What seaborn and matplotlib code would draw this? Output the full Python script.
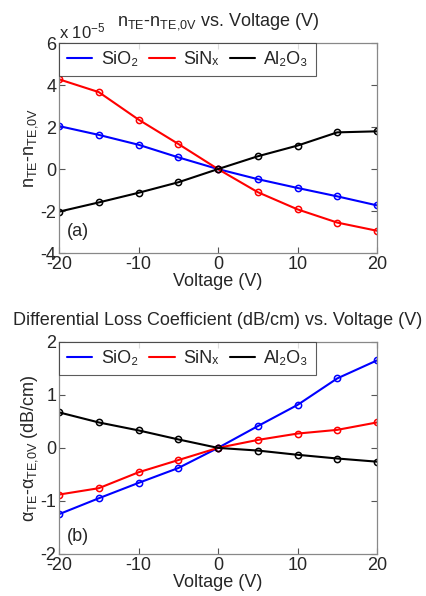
import pandas as pd
import matplotlib
matplotlib.use("Agg")
import matplotlib.pyplot as plt
from matplotlib.lines import Line2D
import seaborn as sns

voltage = [-20, -15, -10, -5, 0, 5, 10, 15, 20]
materials = ["SiO\u2082", "SiN\u2093", "Al\u2082O\u2083"]
colors = ["#0000ff", "#ff0000", "#000000"]

# index change, units of 1e-5
dn_sio2 = [2.05, 1.63, 1.16, 0.56, 0.0, -0.48, -0.90, -1.30, -1.73]
dn_sinx = [4.28, 3.67, 2.36, 1.20, 0.0, -1.10, -1.92, -2.55, -2.94]
dn_al2o3 = [-2.03, -1.59, -1.13, -0.63, 0.0, 0.61, 1.12, 1.75, 1.80]

# loss change, dB/cm
da_sio2 = [-1.25, -0.95, -0.66, -0.38, 0.0, 0.41, 0.81, 1.31, 1.65]
da_sinx = [-0.88, -0.76, -0.46, -0.23, 0.0, 0.15, 0.27, 0.34, 0.48]
da_al2o3 = [0.67, 0.48, 0.33, 0.16, 0.0, -0.05, -0.13, -0.20, -0.26]

def long_form(series):
    frames = []
    for name, vals in zip(materials, series):
        frames.append(pd.DataFrame({"V": voltage, "y": vals, "mat": name}))
    return pd.concat(frames, ignore_index=True)

sns.set_style("ticks")
plt.rcParams["font.family"] = ["Liberation Sans", "DejaVu Sans"]
plt.rcParams["mathtext.fontset"] = "custom"
plt.rcParams["mathtext.rm"] = "Liberation Sans"
plt.rcParams["mathtext.it"] = "Liberation Sans"
plt.rcParams["axes.unicode_minus"] = False

fig = plt.figure(figsize=(4.26, 5.96), dpi=100)
ax1 = fig.add_axes([0.1385, 0.5755, 0.7465, 0.352])
ax2 = fig.add_axes([0.1385, 0.0705, 0.7465, 0.356])

def draw(ax, series, ylim, yticks, tag, tag_y):
    df = long_form(series)
    sns.lineplot(data=df, x="V", y="y", hue="mat", palette=colors, marker="o",
                 markersize=4.5, markerfacecolor="none", markeredgewidth=1.1,
                 linewidth=1.5, ax=ax, legend=False)
    for line, c in zip(ax.lines, colors):
        line.set_markeredgecolor(c)
    ax.set_xlim(-20, 20)
    ax.set_ylim(*ylim)
    ax.set_xticks([-20, -10, 0, 10, 20])
    ax.set_yticks(yticks)
    ax.tick_params(direction="in", top=True, right=True, labelsize=13,
                   length=4, color="#555555", pad=2)
    for s in ax.spines.values():
        s.set_color("#888888")
        s.set_linewidth(0.9)
    ax.set_xlabel("Voltage (V)", fontsize=13, labelpad=0)
    ax.text(-19, tag_y, tag, fontsize=13)
    handles = [Line2D([], [], color=c, lw=1.5) for c in colors]
    leg = ax.legend(handles, materials, loc="upper left", ncol=3, fontsize=13,
                    frameon=True, fancybox=False, borderaxespad=0,
                    handlelength=1.4, columnspacing=0.6, handletextpad=0.5,
                    borderpad=0.45)
    leg.get_frame().set_edgecolor("#333333")
    leg.get_frame().set_linewidth(0.8)

draw(ax1, [dn_sio2, dn_sinx, dn_al2o3], (-4, 6), [-4, -2, 0, 2, 4, 6], "(a)", -3.2)
ax1.set_ylabel(r"n$_{\mathrm{TE}}$-n$_{\mathrm{TE{,}0V}}$", fontsize=13, labelpad=0)
ax1.set_title(r"n$_{\mathrm{TE}}$-n$_{\mathrm{TE{,}0V}}$ vs. Voltage (V)", fontsize=13, pad=13)
ax1.text(0.0, 1.01, r"x 10$^{-5}$", transform=ax1.transAxes, fontsize=12,
         ha="left", va="bottom")

draw(ax2, [da_sio2, da_sinx, da_al2o3], (-2, 2), [-2, -1, 0, 1, 2], "(b)", -1.75)
ax2.set_ylabel(r"$\alpha_{\mathrm{TE}}$-$\alpha_{\mathrm{TE{,}0V}}$ (dB/cm)", fontsize=13, labelpad=0)
ax2.set_title("Differential Loss Coefficient (dB/cm) vs. Voltage (V)", fontsize=13, pad=12)

fig.savefig("out.png", dpi=100)
